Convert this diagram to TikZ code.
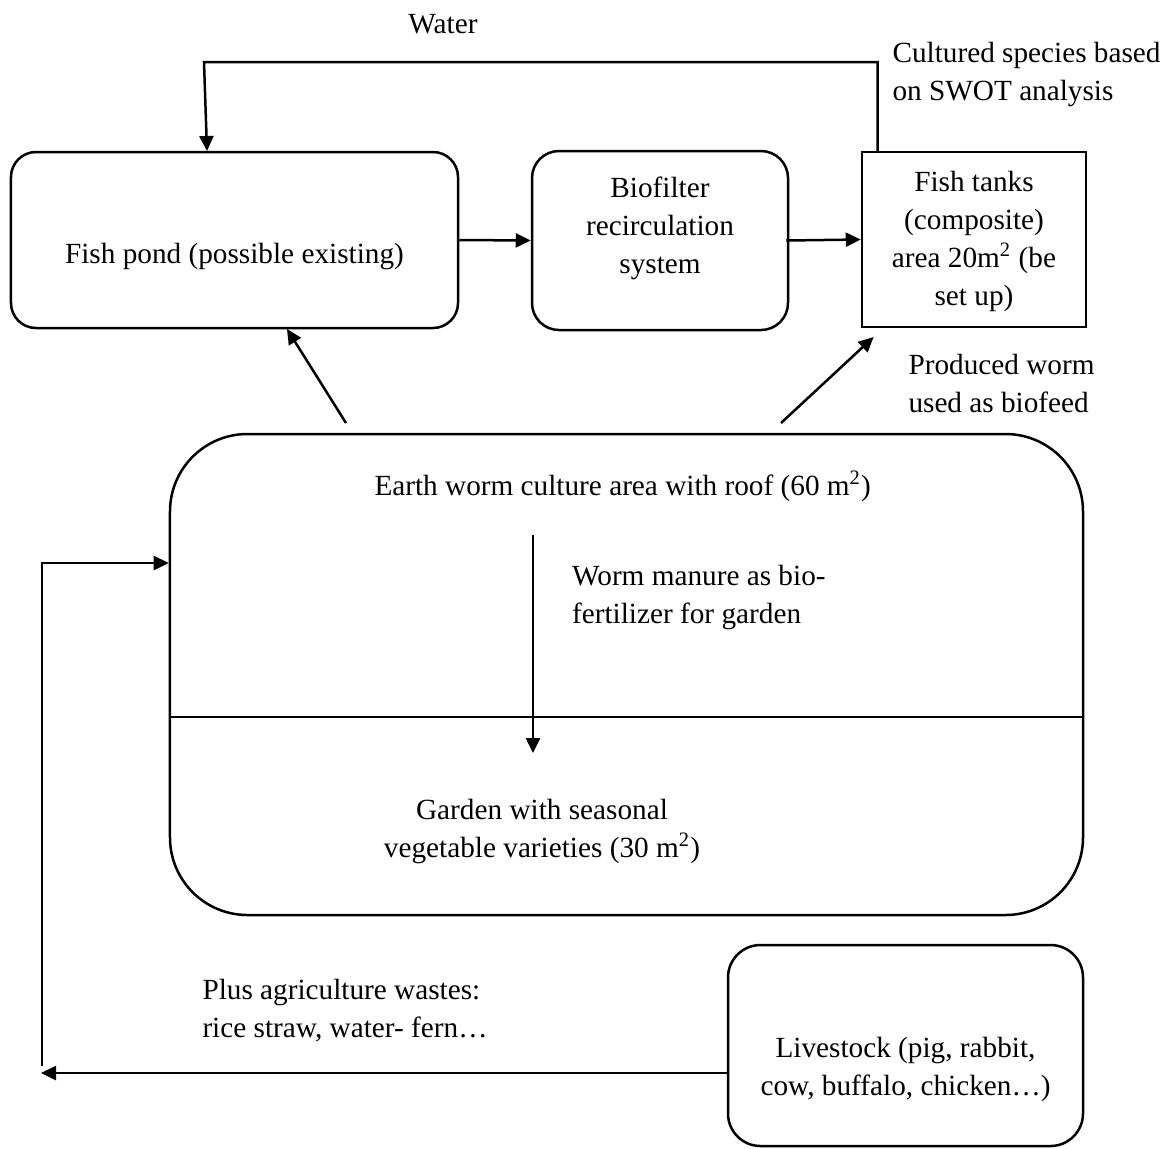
\documentclass[tikz,border=0pt]{standalone}
\usepackage{fontspec}
\setmainfont{Liberation Serif}
\usetikzlibrary{arrows.meta}
\begin{document}
\begin{tikzpicture}[x=0.4pt,y=-0.4pt,
 box/.style={draw,line width=1pt,inner sep=0pt},
 rbox/.style={box,rounded corners=#1},
 lbl/.style={inner sep=0pt,font=\fontsize{11.7}{15.2}\selectfont},
 arr/.style={line width=1pt,-{Triangle[length=6pt,width=5.6pt]}},
 ln/.style={line width=1pt}]
\useasboundingbox (0,0) rectangle (1167,1148);
% boxes
\node[rbox=10pt,minimum width=178.8pt,minimum height=70.4pt] (pond) at (234.5,240) {};
\node[rbox=10.8pt,minimum width=102.4pt,minimum height=71.6pt] (bio) at (660,240.5) {};
\node[box,minimum width=89.6pt,minimum height=70pt] (tanks) at (974,239.5) {};
\node[rbox=31pt,minimum width=365.2pt,minimum height=192.4pt] (big) at (626.5,674.5) {};
\node[rbox=13pt,minimum width=142pt,minimum height=80.4pt] (live) at (905.5,1045.5) {};
\draw[ln] (big.west |- 0,717) -- (big.east |- 0,717);
% texts (base anchor = baseline of the last line)
\node[lbl,anchor=base] (twater) at (443,33) {Water};
\node[lbl,anchor=base west,align=left] (tcult) at (892,100) {Cultured species based\\on SWOT analysis};
\node[lbl,anchor=base] (tpond) at (234.5,263) {Fish pond (possible existing)};
\node[lbl,anchor=base,align=center] (tbio) at (660,273) {Biofilter\\recirculation\\system};
\node[lbl,anchor=base,align=center] (ttanks) at (974,305) {Fish tanks\\(composite)\\area 20m\textsuperscript{2} (be\\set up)};
\node[lbl,anchor=base west,align=left] (tprod) at (908,412) {Produced worm\\used as biofeed};
\node[lbl,anchor=base west] (tearth) at (374,495) {Earth worm culture area with roof (60 m\textsuperscript{2})};
\node[lbl,anchor=base west,align=left] (tmanure) at (571.6,623) {Worm manure as bio-\\fertilizer for garden};
\node[lbl,anchor=base,align=center] (tgarden) at (542,857) {Garden with seasonal\\vegetable varieties (30 m\textsuperscript{2})};
\node[lbl,anchor=base west,align=left] (tplus) at (202,1037) {Plus agriculture wastes:\\rice straw, water- fern…};
\node[lbl,anchor=base,align=center] (tlive) at (905.5,1095) {Livestock (pig, rabbit,\\cow, buffalo, chicken…)};
% connectors
\coordinate (w1) at (877.5,62);
\coordinate (w2) at (204,62);
\coordinate (w3) at (207,151);
\draw[arr] (tanks.north -| w1) -- (w1) -- (w2) -- (w3);
\draw[arr] (pond.east) -- (bio.west);
\draw[arr] ([xshift=-1.2pt]bio.east) -- (tanks.west);
\coordinate (b1) at (346,423);
\coordinate (p1) at (287,329);
\draw[arr] (b1) -- (p1);
\coordinate (b2) at (781,423);
\coordinate (t1) at (873.6,337);
\draw[arr] (b2) -- (t1);
\coordinate (m1) at (533,535);
\coordinate (m2) at (533,753);
\draw[arr] (m1) -- (m2);
\coordinate (l1) at (41,1073);
\draw[arr] (live.west |- l1) -- (l1);
\coordinate (l2) at (42,1066);
\coordinate (l3) at (42,563);
\draw[arr] (l2) -- (l3) -- (big.west |- l3);
\end{tikzpicture}
\end{document}
